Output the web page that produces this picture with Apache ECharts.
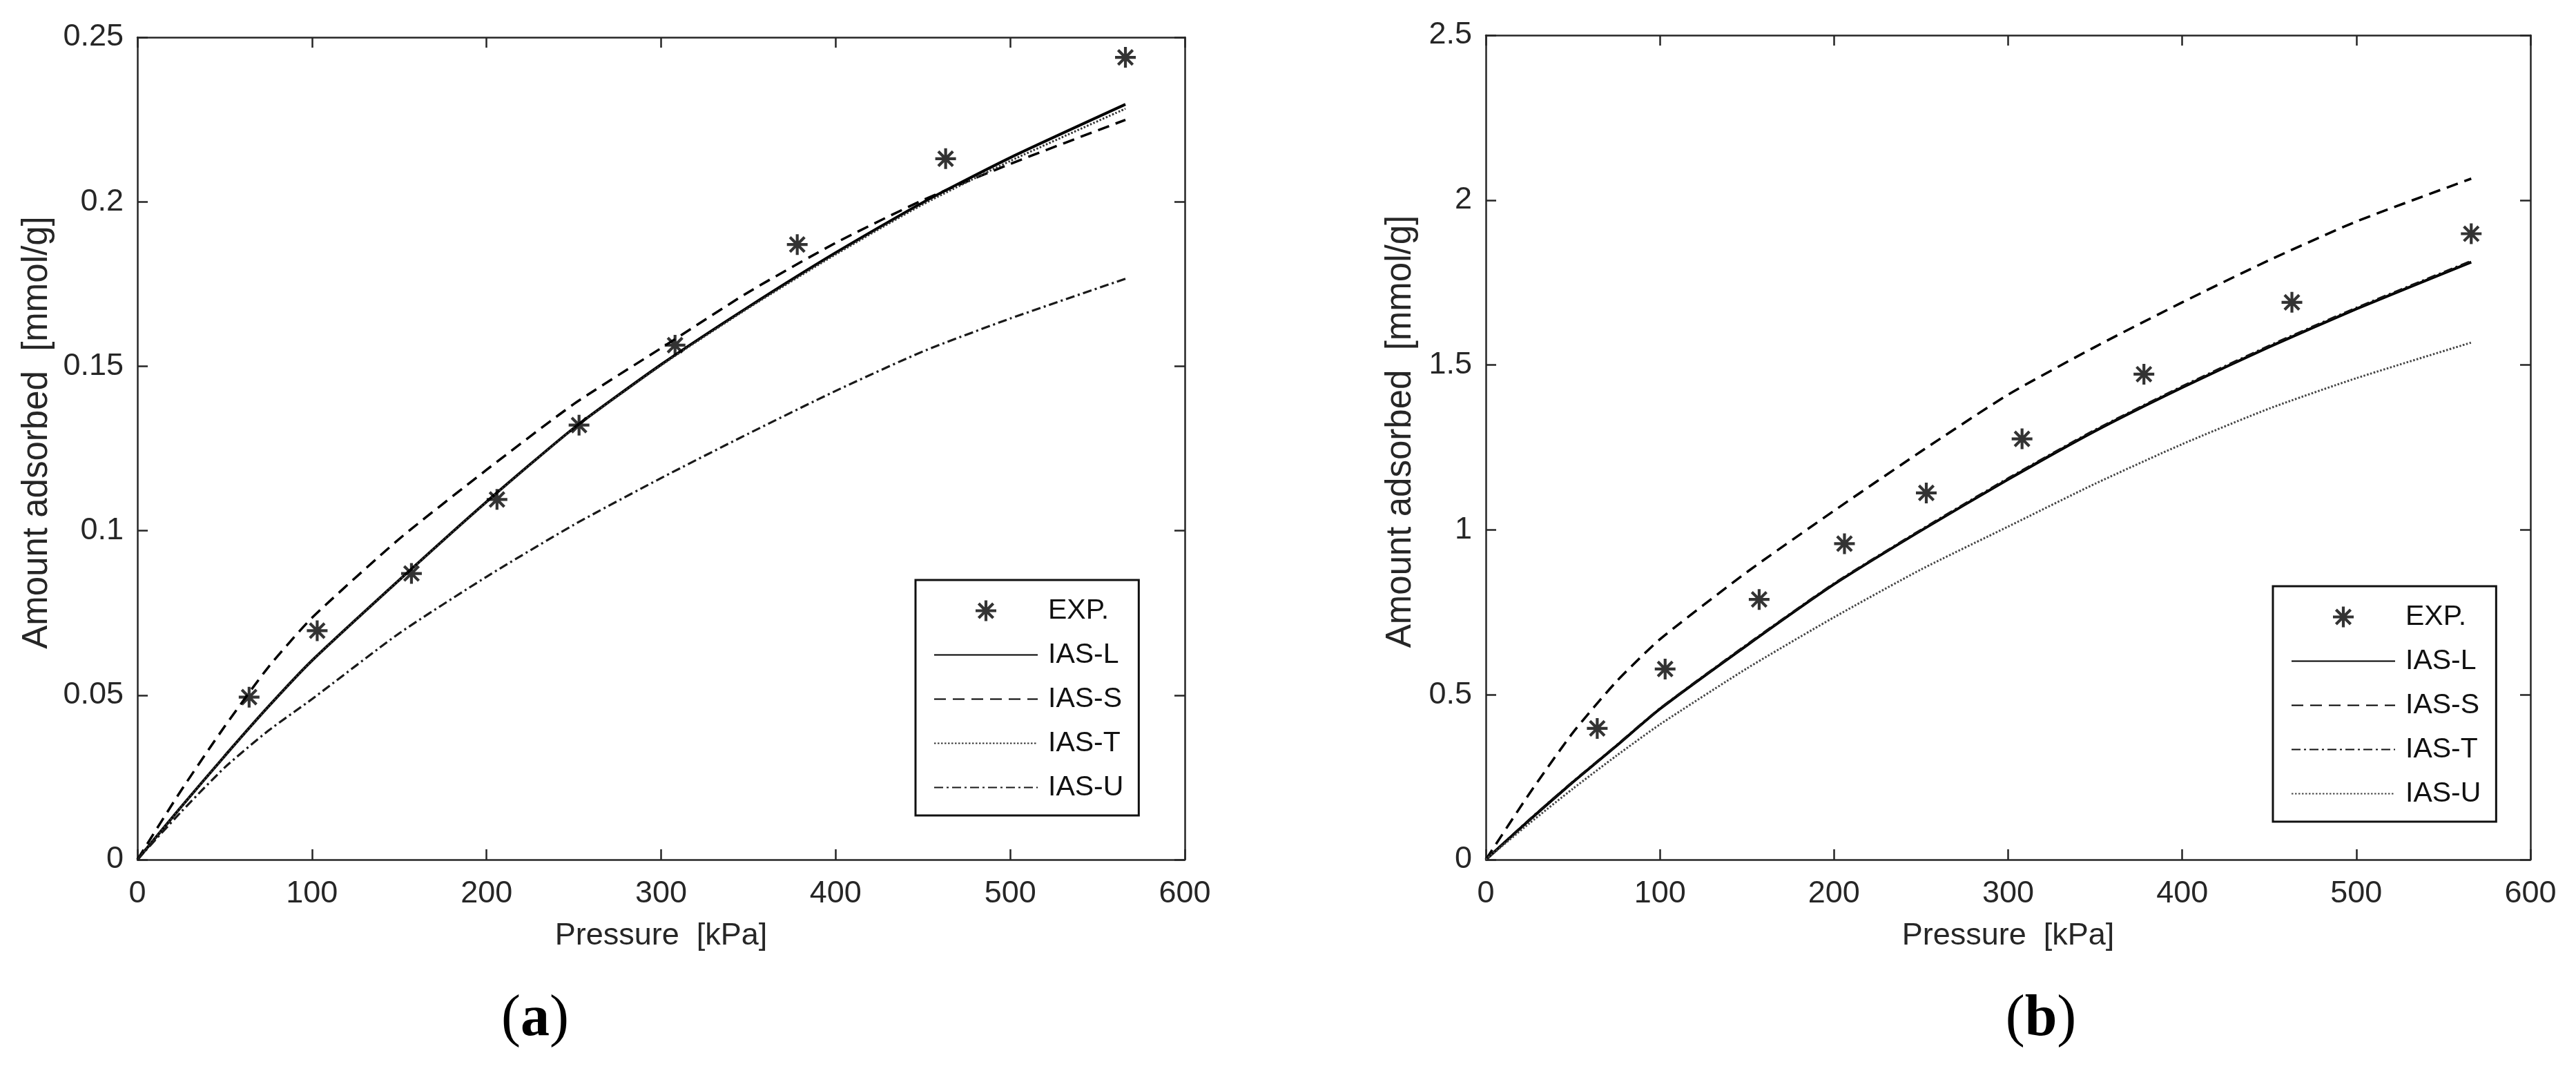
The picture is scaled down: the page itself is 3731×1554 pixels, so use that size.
<!DOCTYPE html>
<html>
<head>
<meta charset="utf-8">
<script src="https://cdn.jsdelivr.net/npm/echarts@6/dist/echarts.min.js"></script>
<style>
  html, body { margin: 0; padding: 0; background: #fff; }
  #main { width: 3731px; height: 1554px; }
</style>
</head>
<body>
<div id="main"></div>
<script>
// experimental points (same pressures in both panels)
const expPressure = [64, 103, 157, 206, 253, 308, 378, 463, 566];
const expA = [0.0494, 0.0696, 0.0870, 0.1095, 0.1321, 0.1564, 0.1870, 0.2131, 0.2439];
const expB = [0.398, 0.578, 0.789, 0.958, 1.112, 1.276, 1.472, 1.690, 1.898];

// model curves
const fitPressure = [0, 25, 50, 75, 100, 150, 200, 250, 300, 350, 400, 450, 500, 566];
const iasLA = [0, 0.016, 0.0315, 0.0465, 0.0605, 0.085, 0.1088, 0.1312, 0.1505, 0.168, 0.1845, 0.1998, 0.2134, 0.2296];
const iasSA = [0, 0.021, 0.0405, 0.0585, 0.0735, 0.0975, 0.1185, 0.1385, 0.1555, 0.1725, 0.1875, 0.2005, 0.2115, 0.2249];
const iasTA = [0, 0.016, 0.0315, 0.0465, 0.0605, 0.085, 0.1087, 0.1311, 0.1503, 0.1677, 0.184, 0.1992, 0.2124, 0.2283];
const iasUA = [0, 0.0145, 0.028, 0.0392, 0.0488, 0.0688, 0.086, 0.1018, 0.116, 0.1295, 0.1425, 0.1545, 0.1645, 0.1766];

const iasLB = [0, 0.12, 0.235, 0.345, 0.457, 0.65, 0.835, 0.998, 1.153, 1.3, 1.432, 1.555, 1.67, 1.812];
const iasSB = [0, 0.2, 0.385, 0.54, 0.668, 0.872, 1.058, 1.238, 1.41, 1.555, 1.69, 1.818, 1.935, 2.065];
const iasTB = [0, 0.121, 0.236, 0.346, 0.458, 0.652, 0.837, 1.0, 1.156, 1.303, 1.435, 1.558, 1.673, 1.815];
const iasUB = [0, 0.11, 0.215, 0.315, 0.41, 0.58, 0.735, 0.88, 1.01, 1.14, 1.26, 1.368, 1.46, 1.568];

const xTicks = { min: 0, max: 600, interval: 100 };
const yTicksA = { min: 0, max: 0.25, interval: 0.05 };
const yTicksB = { min: 0, max: 2.5, interval: 0.5 };

const seriesNames = ['EXP.', 'IAS-L', 'IAS-S', 'IAS-T', 'IAS-U'];

const axisColor = '#262626';
const font = 'Liberation Sans, Arial, sans-serif';

// asterisk marker like matlab '*'
const star = 'path://M43 0L57 0L57 100L43 100Z M0 43L100 43L100 57L0 57Z ' +
  'M19.6 9.7L90.3 80.4L80.4 90.3L9.7 19.6Z M80.4 9.7L90.3 19.6L19.6 90.3L9.7 80.4Z';

const SOLID = 'solid';
const DASH = [17, 10];
const DOT = [2.5, 2.5];
const DASHDOT = [13, 5, 3, 5];

function pairs(xs, ys) {
  return xs.map((x, i) => [x, ys[i]]);
}

function expSeries(prefix, idx, ys) {
  return {
    name: prefix + 'EXP.',
    type: 'scatter',
    xAxisIndex: idx,
    yAxisIndex: idx,
    data: pairs(expPressure, ys),
    symbol: star,
    symbolSize: 30,
    symbolKeepAspect: true,
    itemStyle: { color: '#000' },
    z: 5
  };
}

function curve(prefix, name, idx, ys, dash, width, color) {
  return {
    name: prefix + name,
    type: 'line',
    xAxisIndex: idx,
    yAxisIndex: idx,
    data: pairs(fitPressure, ys),
    symbol: 'none',
    showSymbol: false,
    smooth: 0.2,
    lineStyle: { color: color, width: width, type: dash, cap: 'butt' },
    itemStyle: { color: color }
  };
}

function xAxes(grid, bottomName) {
  return [
    {
      gridIndex: grid, type: 'value', position: 'bottom',
      min: xTicks.min, max: xTicks.max, interval: xTicks.interval,
      name: bottomName, nameLocation: 'middle', nameGap: 88,
      nameTextStyle: { color: axisColor, fontSize: 45, fontFamily: font },
      axisLine: { onZero: false, lineStyle: { color: axisColor, width: 2.5 } },
      axisTick: { inside: true, length: 15, lineStyle: { color: axisColor, width: 2.5 } },
      axisLabel: { color: axisColor, fontSize: 45, fontFamily: font, margin: 27 },
      splitLine: { show: false }
    },
    {
      gridIndex: grid, type: 'value', position: 'top',
      min: xTicks.min, max: xTicks.max, interval: xTicks.interval,
      axisLine: { onZero: false, lineStyle: { color: axisColor, width: 2.5 } },
      axisTick: { inside: true, length: 15, lineStyle: { color: axisColor, width: 2.5 } },
      axisLabel: { show: false },
      splitLine: { show: false }
    }
  ];
}

function yAxes(grid, ticks, gap, decimals) {
  return [
    {
      gridIndex: grid, type: 'value', position: 'left',
      min: ticks.min, max: ticks.max, interval: ticks.interval,
      name: 'Amount adsorbed  [mmol/g]', nameLocation: 'middle', nameGap: gap,
      nameTextStyle: { color: axisColor, fontSize: 51, fontFamily: font, padding: [0, 0, 0, 46] },
      axisLine: { onZero: false, lineStyle: { color: axisColor, width: 2.5 } },
      axisTick: { inside: true, length: 15, lineStyle: { color: axisColor, width: 2.5 } },
      axisLabel: {
        color: axisColor, fontSize: 45, fontFamily: font, margin: 20,
        formatter: v => String(+v.toFixed(decimals))
      },
      splitLine: { show: false }
    },
    {
      gridIndex: grid, type: 'value', position: 'right',
      min: ticks.min, max: ticks.max, interval: ticks.interval,
      axisLine: { onZero: false, lineStyle: { color: axisColor, width: 2.5 } },
      axisTick: { inside: true, length: 15, lineStyle: { color: axisColor, width: 2.5 } },
      axisLabel: { show: false },
      splitLine: { show: false }
    }
  ];
}

function legend(prefix, left, top) {
  return {
    orient: 'vertical',
    left: left,
    top: top,
    // line entries: hide the marker dot, keep the line sample
    data: seriesNames.map(n => n === 'EXP.'
      ? { name: prefix + n }
      : { name: prefix + n, itemStyle: { opacity: 0 } }),
    formatter: name => name.slice(prefix.length),
    itemWidth: 150,
    itemHeight: 30,
    itemGap: 23,
    padding: [24, 22, 20, 26],
    borderColor: '#111',
    borderWidth: 3,
    backgroundColor: '#fff',
    selectedMode: false,
    textStyle: { color: '#111', fontSize: 41, fontFamily: font, padding: [0, 0, 0, 10] }
  };
}

const chart = echarts.init(document.getElementById('main'), null, { renderer: 'canvas' });

const option = {
  backgroundColor: '#fff',
  animation: false,
  grid: [
    { left: 199, top: 54, width: 1517, height: 1191 },
    { left: 2152, top: 51, width: 1513, height: 1194 }
  ],
  xAxis: [...xAxes(0, 'Pressure  [kPa]'), ...xAxes(1, 'Pressure  [kPa]')],
  yAxis: [...yAxes(0, yTicksA, 120, 2), ...yAxes(1, yTicksB, 98, 1)],
  legend: [legend('a:', 1326, 840), legend('b:', 3292, 849)],
  series: [
    expSeries('a:', 0, expA),
    curve('a:', 'IAS-L', 0, iasLA, SOLID, 4, '#000'),
    curve('a:', 'IAS-S', 0, iasSA, DASH, 3.5, '#000'),
    curve('a:', 'IAS-T', 0, iasTA, DOT, 3, '#333'),
    curve('a:', 'IAS-U', 0, iasUA, DASHDOT, 3.2, '#1a1a1a'),
    expSeries('b:', 2, expB),
    curve('b:', 'IAS-L', 2, iasLB, SOLID, 4, '#000'),
    curve('b:', 'IAS-S', 2, iasSB, DASH, 3.5, '#000'),
    curve('b:', 'IAS-T', 2, iasTB, DASHDOT, 3.5, '#111'),
    curve('b:', 'IAS-U', 2, iasUB, DOT, 3, '#444')
  ],
  graphic: [
    ['a', 775], ['b', 2956]
  ].map(([label, x]) => ({
    type: 'text',
    x: x,
    y: 1477,
    style: {
      text: '{p|(}{b|' + label + '}{p|)}',
      align: 'center',
      verticalAlign: 'middle',
      rich: {
        p: { fontFamily: 'Liberation Serif, serif', fontSize: 84, fill: '#000' },
        b: { fontFamily: 'Liberation Serif, serif', fontSize: 84, fontWeight: 'bold', fill: '#000' }
      }
    }
  }))
};

chart.setOption(option);
</script>
</body>
</html>
